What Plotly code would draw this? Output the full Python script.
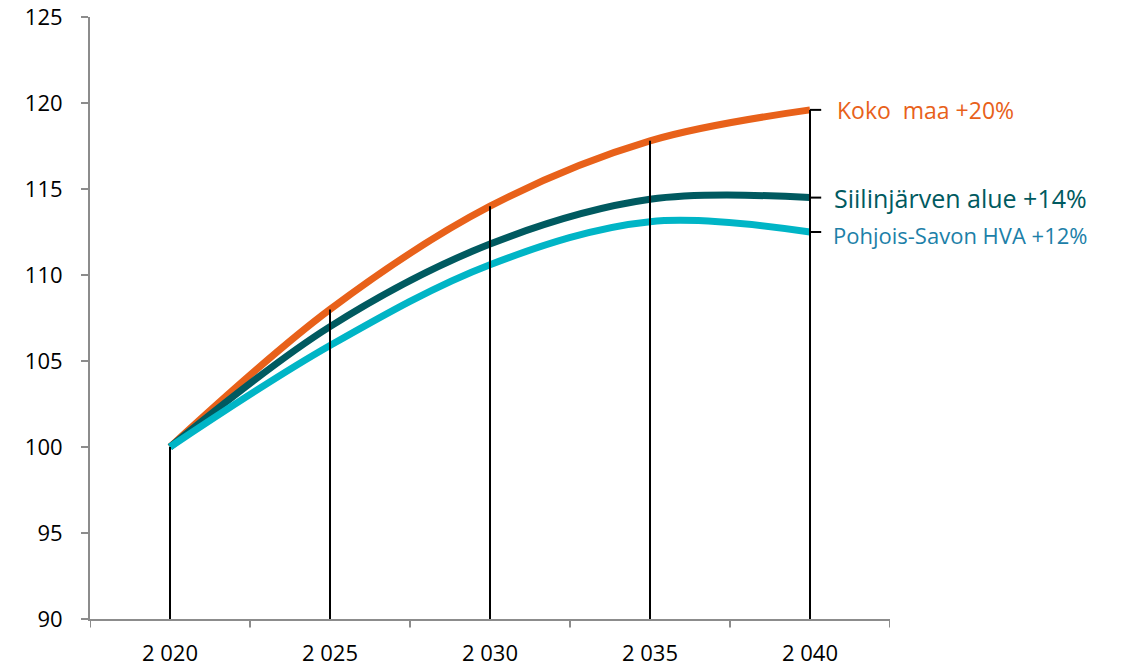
import plotly.graph_objects as go

years = ["2 020", "2 025", "2 030", "2 035", "2 040"]
koko_maa = [100, 108.0, 114.0, 117.8, 119.6]
siilinjarvi = [100, 107.0, 111.8, 114.4, 114.5]
pohjois_savo = [100, 105.9, 110.6, 113.1, 112.5]

series = [
    ("Koko maa", koko_maa, "#E8611A", "Koko  maa +20%", "#E8611A", 23, 25, 0),
    ("Siilinjärven alue", siilinjarvi, "#005A60", "Siilinjärven alue +14%", "#005A60", 25, 22, 0),
    ("Pohjois-Savon HVA", pohjois_savo, "#00B5C6", "Pohjois-Savon HVA +12%", "#1C80A8", 22, 21, -3),
]

xs = list(range(len(years)))
fig = go.Figure()
for name, vals, col, *_ in series:
    fig.add_trace(go.Scatter(x=xs, y=vals, mode="lines", name=name,
                             line=dict(color=col, width=7, shape="spline", smoothing=1.0),
                             hoverinfo="skip"))

# drop lines from the highest series value down to the axis
for i in xs:
    top = max(s[1][i] for s in series)
    fig.add_trace(go.Scatter(x=[i, i], y=[90, top], mode="lines",
                             line=dict(color="black", width=2), hoverinfo="skip"))

annotations = []
shapes = []
for name, vals, col, text, tcol, fs, xsh, ysh in series:
    last = vals[-1]
    shapes.append(dict(type="line", xref="x", yref="y", x0=4, x1=4.07, y0=last, y1=last,
                       line=dict(color="black", width=2)))
    annotations.append(dict(x=4, y=last, xref="x", yref="y", text=text, showarrow=False,
                            xanchor="left", yanchor="middle", xshift=xsh, yshift=ysh,
                            font=dict(color=tcol, size=fs, family="Open Sans")))

fig.update_layout(
    width=1130, height=667,
    margin=dict(l=90, r=240, t=17, b=48),
    plot_bgcolor="white", paper_bgcolor="white",
    showlegend=False,
    annotations=annotations, shapes=shapes,
    font=dict(family="Open Sans", size=22, color="black"),
)
fig.update_xaxes(range=[-0.5, 4.5], tickmode="array", tickvals=xs, ticktext=years,
                 showgrid=False, showline=True, linecolor="#8C8C8C", linewidth=2,
                 ticks="", zeroline=False, ticklabelstandoff=14, automargin=False,
                 ticklabeloverflow="allow")
# boundary ticks on x axis
for b in [-0.5, 0.5, 1.5, 2.5, 3.5, 4.5]:
    fig.add_shape(type="line", xref="x", yref="paper", x0=b, x1=b, y0=0, y1=-0.014,
                  line=dict(color="#8C8C8C", width=2))
fig.update_yaxes(range=[90, 125], dtick=5, showgrid=False, showline=True,
                 linecolor="#8C8C8C", linewidth=2, ticks="outside", ticklen=7,
                 tickcolor="#8C8C8C", tickwidth=2, zeroline=False, ticklabelstandoff=14,
                 automargin=False, ticklabeloverflow="allow")

fig.write_html("out.html", config={"displayModeBar": False},
               post_script="document.body.style.margin='0';")
